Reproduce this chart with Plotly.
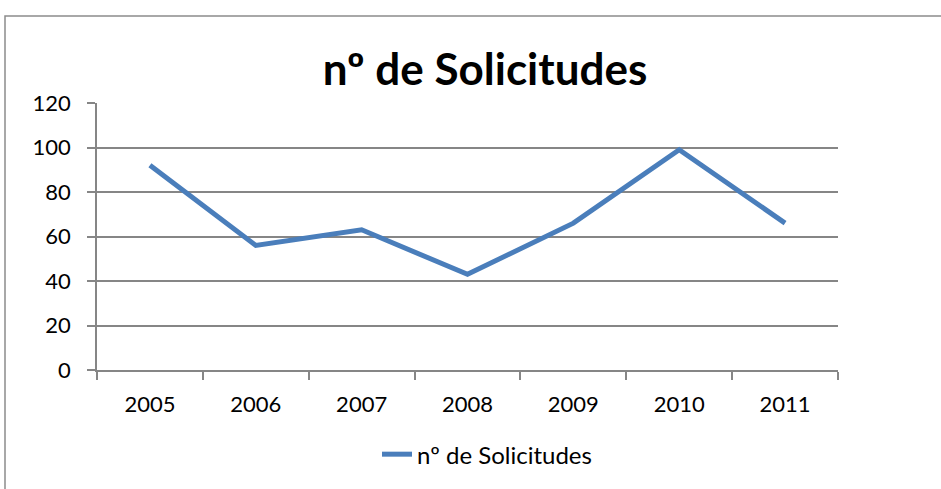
import plotly.graph_objects as go

years = ["2005", "2006", "2007", "2008", "2009", "2010", "2011"]
solicitudes = [92, 56, 63, 43, 66, 99, 66]
series_name = "nº de Solicitudes"
title_text = "nº de Solicitudes"
y_ticks = [0, 20, 40, 60, 80, 100, 120]

W, H = 941, 489
L, R, T, B = 97, 838, 103.5, 375
pw, ph = R - L, B - T

def px_x(p):
    return (p - L) / pw

def px_y(p):
    return (B - p) / ph

FONT = "Lato"
GRAY = "#868686"

fig = go.Figure()
fig.add_trace(go.Scatter(
    x=years, y=solicitudes, mode="lines", name=series_name,
    line=dict(color="#4A7EBB", width=5),
))

fig.update_layout(
    width=W, height=H,
    margin=dict(l=L, r=W - R, t=T, b=H - B),
    paper_bgcolor="white", plot_bgcolor="white",
    font=dict(family=FONT, size=22, color="black"),
    title=dict(text="<b>" + title_text + "</b>", x=485 / W, xanchor="center",
               y=1 - 70 / H, yanchor="middle", yref="container",
               font=dict(family=FONT, size=44, color="black")),
    showlegend=True,
    legend=dict(orientation="h", x=px_x(487), xanchor="center",
                y=px_y(461), yanchor="middle", font=dict(size=24),
                bgcolor="rgba(0,0,0,0)"),
    xaxis=dict(type="category", range=[-0.5, 6.5], tickson="boundaries",
               ticks="outside", ticklen=8, tickcolor=GRAY, tickwidth=1.5,
               showline=True, linecolor=GRAY, linewidth=1.5,
               showgrid=False, zeroline=False, tickfont=dict(size=22),
               ticklabelstandoff=14),
    yaxis=dict(range=[0, 120], tickvals=y_ticks, ticks="outside", ticklen=8,
               tickcolor=GRAY, tickwidth=1.5,
               showline=True, linecolor=GRAY, linewidth=1.5,
               showgrid=True, gridcolor=GRAY, gridwidth=1.5,
               zeroline=False, tickfont=dict(size=22), ticklabelstandoff=12),
)

fig.add_shape(type="rect", xref="paper", yref="paper",
              x0=px_x(5), x1=px_x(990), y0=px_y(15), y1=px_y(540),
              line=dict(color="#8c8c8c", width=1.5), layer="below")

fig.write_html("out.html", config={"displayModeBar": False},
               post_script="document.body.style.margin='0';document.body.style.overflow='hidden';")
